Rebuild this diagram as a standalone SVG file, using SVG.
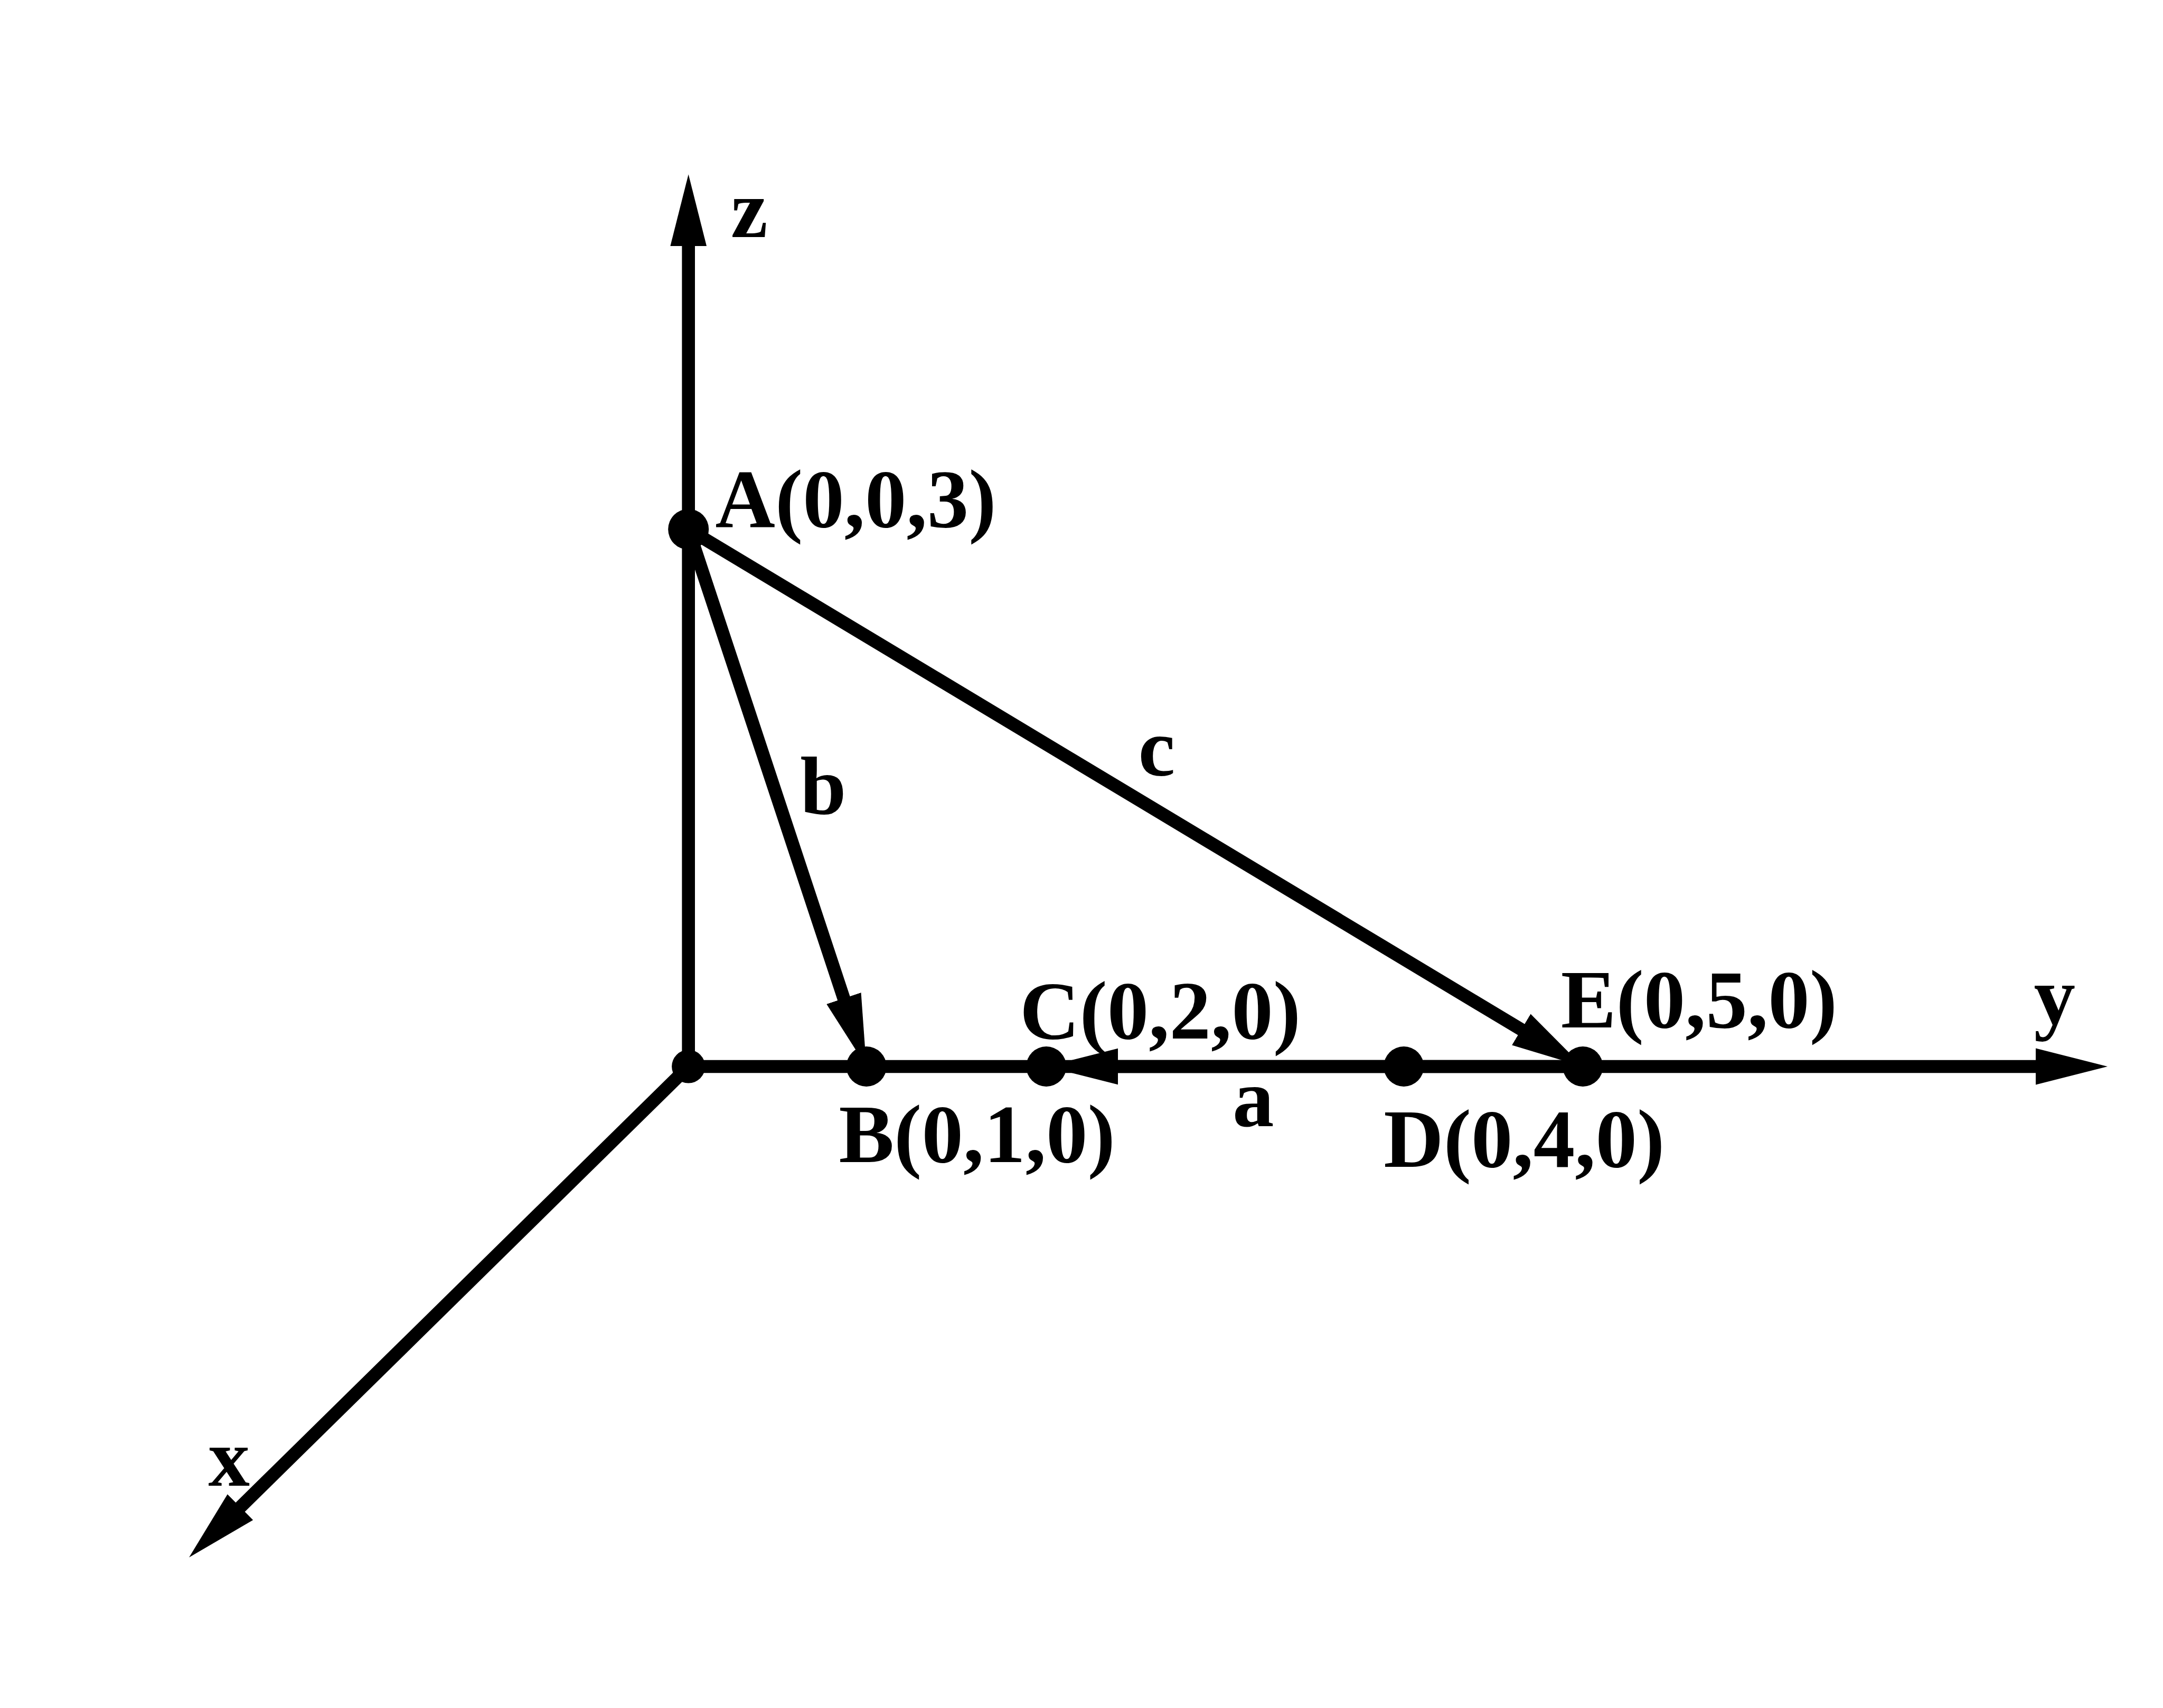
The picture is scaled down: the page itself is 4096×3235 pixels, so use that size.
<svg xmlns="http://www.w3.org/2000/svg" width="4096" height="3235" viewBox="0 0 4096 3235">
<style>
.ln{stroke:#000;stroke-width:24.6;fill:none;stroke-linecap:butt}
.dot{fill:#000}
text{font-family:"Liberation Serif","Times New Roman",serif;font-weight:bold;font-size:157px;fill:#000}
</style>
<defs>
<marker id="ah" markerUnits="userSpaceOnUse" viewBox="0 -35 140 70" refX="2" refY="0" markerWidth="140" markerHeight="70" orient="auto">
<path d="M0,-34.4 L136,0 L0,34.4 Z" fill="#000"/>
</marker>
</defs>
<rect width="4096" height="3235" fill="#fff"/>
<g id="connectors">
<line id="axis-z" class="ln" x1="1303.7" y1="2020" x2="1303.7" y2="464.3" marker-end="url(#ah)"/>
<line id="axis-y" class="ln" x1="1303.7" y1="2020" x2="3857" y2="2020" marker-end="url(#ah)"/>
<line id="axis-x" class="ln" x1="1303.7" y1="2020" x2="453.6" y2="2855.9" marker-end="url(#ah)"/>
<line id="vec-b" class="ln" x1="1303.7" y1="1002.5" x2="1598.5" y2="1892.8" marker-end="url(#ah)"/>
<line id="vec-c" class="ln" x1="1303.7" y1="1002.5" x2="2882.5" y2="1951" marker-end="url(#ah)"/>
<line id="vec-a" class="ln" x1="2997.4" y1="2020" x2="2115.3" y2="2020" marker-end="url(#ah)"/>
</g>
<g id="node-O"><circle class="dot" cx="1303.7" cy="2020" r="31.6"/></g>
<g id="node-A"><circle class="dot" cx="1303.7" cy="1002.5" r="38.5"/><text x="1354.6" y="998.2">A(0,0,3)</text></g>
<g id="node-B"><circle class="dot" cx="1640.7" cy="2020" r="38"/><text x="1588.4" y="2201">B(0,1,0)</text></g>
<g id="node-C"><circle class="dot" cx="1981.3" cy="2020" r="38"/><text x="1931.1" y="1966.5">C(0,2,0)</text></g>
<g id="node-D"><circle class="dot" cx="2658.3" cy="2020" r="38"/><text x="2620.3" y="2210">D(0,4,0)</text></g>
<g id="node-E"><circle class="dot" cx="2997.4" cy="2020" r="38"/><text x="2955.8" y="1946.2">E(0,5,0)</text></g>
<g id="labels">
<text x="1384" y="448.9">z</text>
<text x="3851.4" y="1940.4">y</text>
<text x="394.4" y="2813.9">x</text>
<text x="1515.2" y="1541.7">b</text>
<text x="2155.6" y="1468.6">c</text>
<text x="2334" y="2133.3">a</text>
</g>
</svg>
